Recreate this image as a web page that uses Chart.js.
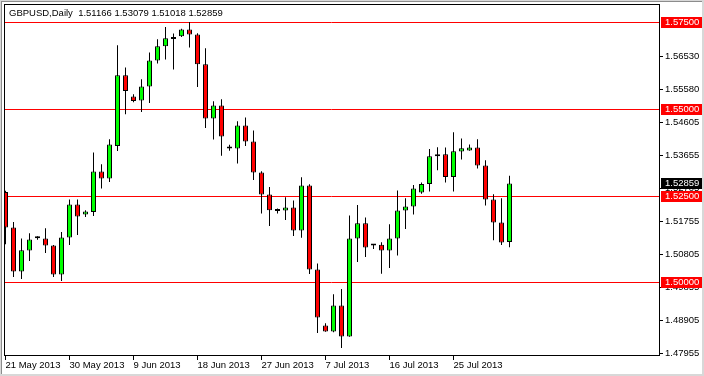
<!DOCTYPE html>
<html><head><meta charset="utf-8">
<script src="https://cdn.jsdelivr.net/npm/chart.js@4/dist/chart.umd.min.js"></script>
<style>html,body{margin:0;padding:0;background:#fff;overflow:hidden}canvas{display:block}</style>
</head><body>
<canvas id="c" width="704" height="376" style="width:704px;height:376px"></canvas>
<script>
const symbolTitle = 'GBPUSD,Daily';
const open  = [1.52614,1.51587,1.50317,1.50923,1.51278,1.51269,1.51067,1.50231,1.51298,1.52250,
               1.51962,1.52037,1.53202,1.53000,1.53940,1.55980,1.55365,1.55250,1.55654,1.56404,
               1.56816,1.57027,1.57105,1.57298,1.57154,1.56297,1.54731,1.55106,1.53923,1.53868,
               1.54529,1.54067,1.53173,1.52538,1.52077,1.52080,1.52164,1.51500,1.52798,1.50375,
               1.48760,1.48587,1.49337,1.48442,1.51269,1.51711,1.51076,1.51090,1.50926,1.51272,
               1.52080,1.52195,1.52596,1.52844,1.53643,1.53701,1.53046,1.53779,1.53808,1.53894,
               1.53375,1.52394,1.51731,1.51166];
const high  = [1.52648,1.51748,1.51269,1.51422,1.51336,1.51566,1.51085,1.51460,1.52394,1.52394,
               1.52086,1.53750,1.53413,1.54134,1.56845,1.56202,1.55432,1.55864,1.56635,1.57018,
               1.57373,1.57183,1.57320,1.57517,1.57191,1.56759,1.55230,1.55288,1.53975,1.54653,
               1.54760,1.54385,1.53211,1.52758,1.52135,1.52461,1.52368,1.53038,1.52836,1.50548,
               1.48826,1.49663,1.49815,1.51933,1.52238,1.51875,1.51099,1.51162,1.51682,1.52657,
               1.52432,1.52813,1.52885,1.53854,1.53903,1.53894,1.54336,1.54154,1.53981,1.54134,
               1.53528,1.52547,1.52432,1.53079];
const low   = [1.51105,1.50162,1.50104,1.50623,1.51235,1.50854,1.50162,1.50046,1.51085,1.51373,
               1.51892,1.51921,1.52712,1.52902,1.53796,1.54855,1.55201,1.54921,1.55181,1.56317,
               1.56433,1.56144,1.57080,1.56779,1.55642,1.54460,1.54128,1.53658,1.53802,1.53433,
               1.53940,1.52960,1.51990,1.51633,1.51990,1.51806,1.51344,1.51292,1.50248,1.48546,
               1.48581,1.48566,1.48114,1.48436,1.50594,1.50739,1.50969,1.50254,1.50421,1.50779,
               1.51546,1.51962,1.52562,1.52625,1.53239,1.52885,1.52625,1.53548,1.53802,1.53289,
               1.52221,1.51220,1.51085,1.51018];
const close = [1.51587,1.50317,1.50932,1.51240,1.51298,1.51067,1.50231,1.51298,1.52250,1.51904,
               1.52048,1.53202,1.53000,1.53981,1.55980,1.55527,1.55238,1.55654,1.56404,1.56816,
               1.57047,1.57041,1.57298,1.57154,1.56297,1.54731,1.55106,1.54212,1.53865,1.54529,
               1.54067,1.53173,1.52538,1.52086,1.52065,1.52164,1.51500,1.52798,1.50375,1.48990,
               1.48587,1.49337,1.48442,1.51269,1.51711,1.51010,1.51067,1.50926,1.51272,1.52080,
               1.52195,1.52712,1.52841,1.53643,1.53701,1.53046,1.53788,1.53874,1.53894,1.53375,
               1.52394,1.51731,1.51154,1.52859];
const xTickBars   = [0, 8, 16, 24, 32, 40, 48, 56];
const xTickLabels = ['21 May 2013','30 May 2013','9 Jun 2013','18 Jun 2013','27 Jun 2013','7 Jul 2013','16 Jul 2013','25 Jul 2013'];
const yTickValues = [1.56530,1.55580,1.54605,1.53655,1.52705,1.51755,1.50805,1.49855,1.48905,1.47955];
const levelLines  = [1.57500,1.55000,1.52500,1.50000];

const FONT = "'Liberation Sans', Arial, sans-serif";
const FSIZE = 9.5;
const X_MIN = -0.1875, X_MAX = 81.6875;
const Y_MIN = 1.478798, Y_MAX = 1.580048;

const bodies = open.map((o, i) => ({x: i, y: [o, close[i]]}));
const wicks  = low.map((l, i) => ({x: i, y: [l, high[i]]}));
const bodyColors = close.map((c, i) => c >= open[i] ? '#00ff00' : '#ff0000');

const mtPlugin = {
  id: 'mt',
  beforeDraw(chart) {
    const ctx = chart.ctx;
    ctx.save();
    ctx.fillStyle = '#ffffff';
    ctx.fillRect(0, 0, chart.width, chart.height);
    ctx.restore();
  },
  beforeDatasetsDraw(chart) {
    const {ctx, chartArea: a, scales: {y}} = chart;
    ctx.save();
    ctx.strokeStyle = '#ff0000';
    ctx.lineWidth = 1;
    levelLines.forEach(v => {
      const py = Math.round(y.getPixelForValue(v)) + 0.5;
      ctx.beginPath(); ctx.moveTo(a.left, py); ctx.lineTo(a.right, py); ctx.stroke();
    });
    ctx.restore();
  },
  afterDraw(chart) {
    const {ctx, chartArea: a, scales: {y}} = chart;
    ctx.save();
    ctx.strokeStyle = '#000'; ctx.lineWidth = 1;
    ctx.strokeRect(a.left + 0.5, a.top - 0.5, a.right - a.left, a.bottom - a.top);
    ctx.font = FSIZE + 'px ' + FONT;
    ctx.textBaseline = 'middle';
    ctx.textAlign = 'left';
    const box = (v, bg) => {
      const py = Math.round(y.getPixelForValue(v));
      ctx.fillStyle = bg;
      ctx.fillRect(a.right + 2, py - 5, 41, 11);
      ctx.fillStyle = '#ffffff';
      ctx.fillText(v.toFixed(5), a.right + 6, py + 0.5);
    };
    levelLines.forEach(v => box(v, '#ff0000'));
    box(close[close.length - 1], '#000000');
    const n = open.length - 1;
    ctx.fillStyle = '#000';
    ctx.textBaseline = 'alphabetic';
    ctx.fillText(symbolTitle + '  ' + open[n].toFixed(5) + ' ' + high[n].toFixed(5) + ' ' + low[n].toFixed(5) + ' ' + close[n].toFixed(5), 9, 16);
    ctx.fillStyle = '#d8d8d8';
    ctx.fillRect(0, 0, chart.width, 1);
    ctx.fillRect(0, 0, 1, chart.height);
    ctx.fillRect(chart.width - 2, 0, 2, chart.height);
    ctx.fillRect(0, chart.height - 2, chart.width, 2);
    ctx.fillStyle = '#8c8c8c';
    ctx.fillRect(1, 1, chart.width - 3, 1);
    ctx.fillRect(1, 1, 1, chart.height - 3);
    ctx.restore();
  }
};

new Chart(document.getElementById('c'), {
  type: 'bar',
  data: {
    datasets: [
      {label: 'body', data: bodies, order: 0, barThickness: 5, minBarLength: 2, borderWidth: 1,
       borderColor: '#000000', borderSkipped: false, inflateAmount: 0, backgroundColor: bodyColors},
      {label: 'wick', data: wicks, order: 1, barThickness: 1, minBarLength: 1, borderWidth: 0,
       inflateAmount: 0, backgroundColor: '#000000'}
    ]
  },
  options: {
    responsive: false, animation: false, devicePixelRatio: 1,
    layout: {padding: {left: 4, top: 5, right: 0, bottom: 0}},
    plugins: {legend: {display: false}, tooltip: {enabled: false}},
    datasets: {bar: {grouped: false}},
    scales: {
      x: {
        type: 'linear', min: X_MIN, max: X_MAX, offset: false,
        grid: {drawOnChartArea: false, drawTicks: true, tickLength: 4, color: '#000', offset: false},
        border: {display: false},
        ticks: {align: 'start', autoSkip: false, maxRotation: 0, minRotation: 0, padding: 0, color: '#000',
                font: {family: FONT, size: FSIZE},
                callback: (v) => { const k = xTickBars.indexOf(v); return k >= 0 ? xTickLabels[k] : ''; }},
        afterBuildTicks: (s) => { s.ticks = xTickBars.map(v => ({value: v})); },
        afterFit: (s) => { s.height = 20; s.paddingLeft = 0; s.paddingRight = 0; }
      },
      y: {
        type: 'linear', position: 'right', min: Y_MIN, max: Y_MAX,
        grid: {drawOnChartArea: false, drawTicks: true, tickLength: 4, color: '#000'},
        border: {display: false},
        ticks: {padding: 2, color: '#000', font: {family: FONT, size: FSIZE}, callback: (v) => Number(v).toFixed(5)},
        afterBuildTicks: (s) => { s.ticks = yTickValues.map(v => ({value: v})); },
        afterFit: (s) => { s.width = 45; s.paddingTop = 0; s.paddingBottom = 0; }
      }
    }
  },
  plugins: [mtPlugin]
});
</script>
</body></html>
